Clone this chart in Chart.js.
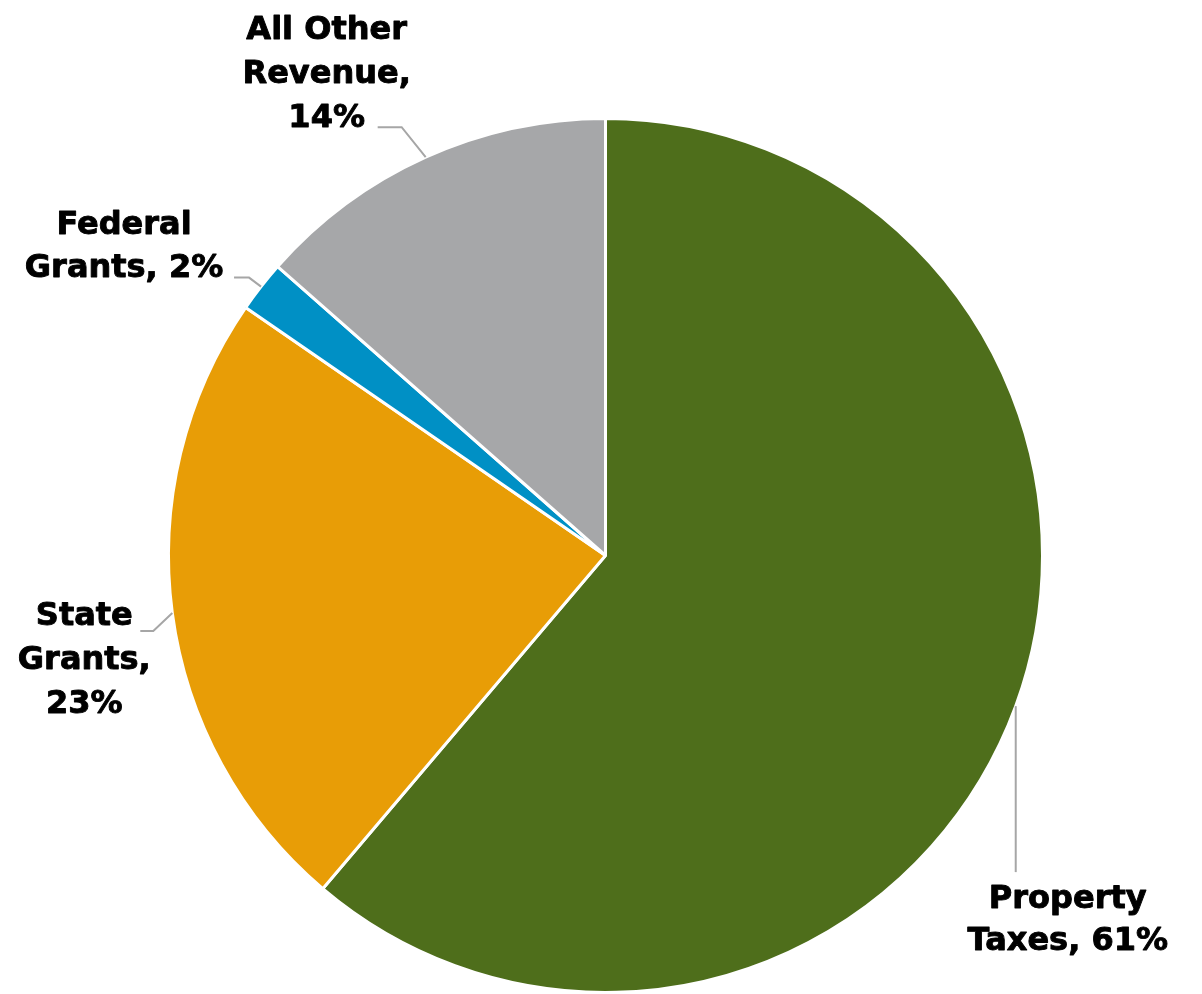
<!DOCTYPE html>
<html>
<head>
<meta charset="utf-8">
<script src="https://cdn.jsdelivr.net/npm/chart.js@4"></script>
<style>
  html, body { margin: 0; padding: 0; background: #ffffff; }
  #wrap { width: 1202px; height: 994px; position: relative; }
</style>
</head>
<body>
<div id="wrap"><canvas id="c"></canvas></div>
<script>
// ---- data ----
const categories = ["Property Taxes", "State Grants", "Federal Grants", "All Other Revenue"];
const shares = [61.2, 23.4, 1.9, 13.5];
const labelLines = [
  ["Property", "Taxes, {p}"],
  ["State", "Grants,", "{p}"],
  ["Federal", "Grants, {p}"],
  ["All Other", "Revenue,", "{p}"]
];
const sliceColors = ["#4E6E1B", "#E89D06", "#0090C5", "#A6A7A9"];

// leader line / label placement styles (relative to slice's outer mid-point)
const labelStyle = [
  { ex: 0,   ey: 166, h: 0,   tx: 52,   ty: 28,  lh: 42 },
  { ex: -19, ey: 18,  h: -13, tx: -56,  ty: -14, lh: 44 },
  { ex: -12, ey: -9,  h: -15, tx: -110, ty: -52, lh: 43 },
  { ex: -24, ey: -30, h: -24, tx: -51,  ty: -97, lh: 44 }
];

const labelPlugin = {
  id: 'pieLabels',
  afterDatasetsDraw(chart) {
    const ctx = chart.ctx;
    const meta = chart.getDatasetMeta(0);
    const data = chart.data.datasets[0].data;
    const total = data.reduce((a, b) => a + b, 0);
    meta.data.forEach((arc, i) => {
      const p = arc.getProps(['x', 'y', 'startAngle', 'endAngle', 'outerRadius'], true);
      const mid = (p.startAngle + p.endAngle) / 2;
      const sx = p.x + Math.cos(mid) * p.outerRadius;
      const sy = p.y + Math.sin(mid) * p.outerRadius;
      const st = labelStyle[i];
      const exx = sx + st.ex, eyy = sy + st.ey;
      const hx = exx + st.h;
      ctx.save();
      ctx.strokeStyle = '#A6A6A6';
      ctx.lineWidth = 2;
      ctx.beginPath();
      ctx.moveTo(sx, sy);
      ctx.lineTo(exx, eyy);
      if (st.h !== 0) ctx.lineTo(hx, eyy);
      ctx.stroke();
      const pct = Math.round(data[i] / total * 100) + '%';
      ctx.fillStyle = '#000000';
      ctx.strokeStyle = '#000000';
      ctx.lineWidth = 0.9;
      ctx.lineJoin = 'round';
      ctx.font = 'bold 32px "DejaVu Sans", Verdana, sans-serif';
      ctx.textAlign = 'center';
      ctx.textBaseline = 'middle';
      labelLines[i].forEach((ln, k) => {
        const t = ln.replace('{p}', pct);
        const tx = hx + st.tx, ty = eyy + st.ty + k * st.lh;
        ctx.fillText(t, tx, ty);
        ctx.strokeText(t, tx, ty);
      });
      ctx.restore();
    });
  }
};

new Chart(document.getElementById('c'), {
  type: 'pie',
  data: {
    labels: categories,
    datasets: [{
      data: shares,
      backgroundColor: sliceColors,
      borderColor: '#ffffff',
      borderWidth: 3
    }]
  },
  options: {
    responsive: true,
    maintainAspectRatio: false,
    animation: false,
    layout: { padding: { top: 117, bottom: 0, left: 166, right: 157 } },
    plugins: {
      legend: { display: false },
      tooltip: { enabled: false }
    }
  },
  plugins: [labelPlugin]
});
</script>
</body>
</html>
